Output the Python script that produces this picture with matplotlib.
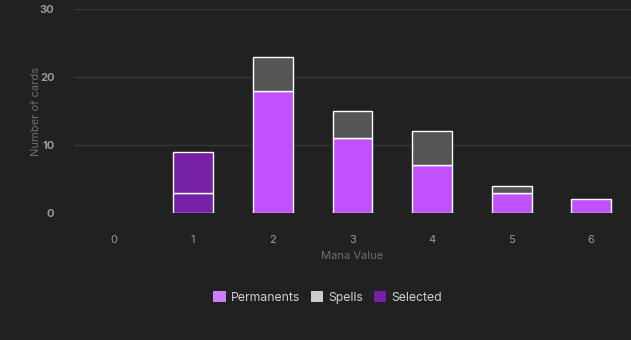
import numpy as np
import matplotlib
matplotlib.use("Agg")
import matplotlib.pyplot as plt
from matplotlib.patches import Patch

plt.rcParams['font.family'] = ['Inter', 'DejaVu Sans']

# mana curve: permanents and other spells per mana value
mana_values = ['0', '1', '2', '3', '4', '5', '6']
permanents = [0, 3, 18, 11, 7, 3, 2]
spells = [0, 6, 5, 4, 5, 1, 0]
selected = '1'

bg = '#212121'
perm_color = '#c150ff'
spell_color = '#555555'
sel_color = '#7620a8'

fig = plt.figure(figsize=(6.31, 3.40), dpi=100, facecolor=bg)
ax = fig.add_axes([0.117, 0.3735, 0.883, 0.60])
ax.set_facecolor(bg)

x = np.arange(len(mana_values))
perm_cols = [sel_color if m == selected else perm_color for m in mana_values]
spell_cols = [sel_color if m == selected else spell_color for m in mana_values]
# no outline on empty segments
perm_lw = [1 if v > 0 else 0 for v in permanents]
spell_lw = [1 if v > 0 else 0 for v in spells]

ax.bar(x, permanents, width=0.5, color=perm_cols, edgecolor='white', linewidth=perm_lw, zorder=3)
ax.bar(x, spells, width=0.5, bottom=permanents, color=spell_cols, edgecolor='white', linewidth=spell_lw, zorder=3)

ax.set_xlim(-0.5, len(mana_values) - 0.5)
ax.set_ylim(0, 30)
ax.set_yticks([0, 10, 20, 30])
ax.set_xticks(x)
ax.set_xticklabels(mana_values)
ax.grid(axis='y', color='#363636', linewidth=1, zorder=0)
for s in ax.spines.values():
    s.set_visible(False)
ax.tick_params(length=0, colors='#9a9a9a', labelsize=8)
ax.tick_params(axis='x', pad=16)
ax.tick_params(axis='y', pad=14)
for lbl in ax.get_yticklabels():
    lbl.set_fontweight('bold')

ax.set_xlabel('Mana Value', color='#6e6e6e', fontsize=8, labelpad=4)
ax.set_ylabel('Number of cards', color='#6e6e6e', fontsize=8, labelpad=-1)

handles = [Patch(facecolor='#cf7cff', label='Permanents'),
           Patch(facecolor='#cccccc', label='Spells'),
           Patch(facecolor=sel_color, label='Selected')]
fig.legend(handles=handles, loc='center', bbox_to_anchor=(0.519, 0.125), ncol=3,
           frameon=False, fontsize=8.8, labelcolor='#d0d0d0', handlelength=1.0,
           handleheight=1.0, handletextpad=0.4, columnspacing=0.9)

fig.savefig('out.png', dpi=100, facecolor=bg)
